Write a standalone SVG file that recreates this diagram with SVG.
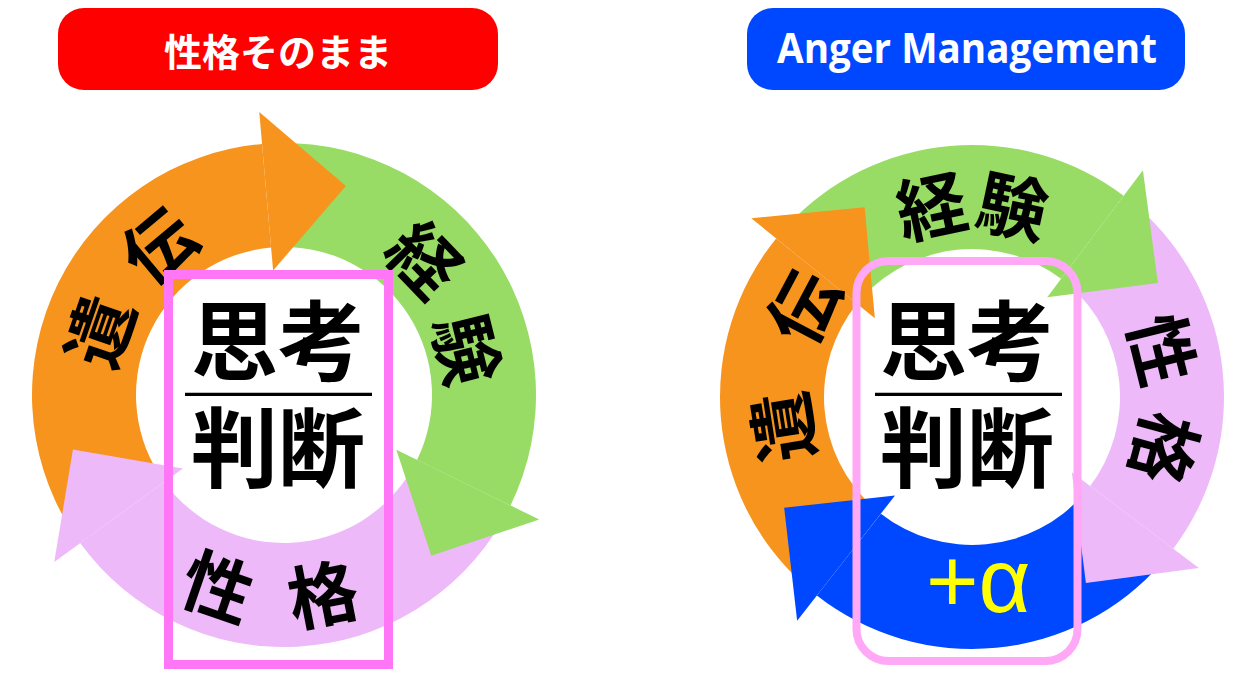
<svg xmlns="http://www.w3.org/2000/svg" width="1255" height="679" viewBox="0 0 1255 679">
<style>
.or{fill:#F7941D}
.gr{fill:#98DC65}
.pk{fill:#EEB9F9}
.bl{fill:#0048FF}
.arc{font-family:"Noto Sans CJK JP","Noto Sans CJK SC",sans-serif;font-weight:700;font-size:70px;text-anchor:middle;dominant-baseline:central;fill:#000}
.ctr{font-family:"Noto Sans CJK JP","Noto Sans CJK SC",sans-serif;font-weight:700;font-size:87px;text-anchor:middle;fill:#000}
.ttl{font-weight:700;fill:#fff;text-anchor:middle}
</style>
<rect width="1255" height="679" fill="#fff"/>

<g id="connectors">
  <g id="left-cycle">
    <path class="or" d="M70.29,528.54 A252,252 0 0 1 262.04,143.96 L271.10,247.56 A148,148 0 0 0 158.49,473.43 Z"/>
    <path class="gr" d="M279.60,143.04 A252,252 0 0 1 510.50,505.47 L417.02,459.88 A148,148 0 0 0 281.42,247.02 Z"/>
    <path class="pk" d="M502.24,521 A252,252 0 0 1 80.13,543.12 L164.27,481.99 A148,148 0 0 0 412.17,469 Z"/>
    <path class="or" d="M259.25,112.08 L345.92,185.98 L273.11,270.48 Z"/>
    <path class="gr" d="M539.26,519.50 L431.28,555.73 L396.35,449.80 Z"/>
    <path class="pk" d="M54.24,561.93 L72.94,449.58 L182.87,468.47 Z"/>
  </g>
  <g id="right-cycle">
    <path class="or" d="M803.38,584.27 A252,252 0 0 1 776.16,238.41 L856.98,303.86 A148,148 0 0 0 872.97,506.98 Z"/>
    <path class="gr" d="M787.70,225.14 A252,252 0 0 1 1123.66,195.74 L1061.07,278.80 A148,148 0 0 0 863.76,296.06 Z"/>
    <path class="pk" d="M1137.33,206.81 A252,252 0 0 1 1173.26,548.66 L1090.20,486.07 A148,148 0 0 0 1069.10,285.30 Z"/>
    <path class="bl" d="M1162.19,562.33 A252,252 0 0 1 816.85,595.58 L880.88,513.63 A148,148 0 0 0 1083.70,494.10 Z"/>
    <path class="or" d="M751.29,218.27 L864.65,207.26 L874.86,318.33 Z"/>
    <path class="gr" d="M1142.92,170.19 L1157.88,283.09 L1047.23,297.17 Z"/>
    <path class="pk" d="M1198.81,567.92 L1085.91,582.88 L1071.83,472.23 Z"/>
    <path class="bl" d="M797.15,620.80 L784.16,507.64 L895.04,495.50 Z"/>
  </g>
</g>

<g id="left-title">
  <rect x="58" y="8" width="440" height="82" rx="26" fill="#FF0000"/>
  <text class="ttl" x="278" y="49" dominant-baseline="central" font-family="Noto Sans CJK JP, Noto Sans CJK SC, sans-serif" font-size="38">性格そのまま</text>
</g>
<g id="right-title">
  <rect x="747" y="8" width="438" height="82" rx="26" fill="#0048FF"/>
  <text class="ttl" x="967" y="63" font-family="Open Sans, Liberation Sans, sans-serif" font-size="42" textLength="380" lengthAdjust="spacingAndGlyphs">Anger Management</text>
</g>

<g id="left-labels">
  <text class="arc" transform="translate(95.84,330.21) rotate(-71)">遺</text>
  <text class="arc" transform="translate(156.08,242.56) rotate(-40)">伝</text>
  <text class="arc" transform="translate(427.15,256.76) rotate(46)">経</text>
  <text class="arc" transform="translate(470.3,348.55) rotate(76)">験</text>
  <text class="arc" transform="translate(219.21,583.16) rotate(19)">性</text>
  <text class="arc" transform="translate(321.97,590.34) rotate(-11)">格</text>
</g>
<g id="right-labels">
  <text class="arc" transform="translate(779.40,427.50) rotate(-99)">遺</text>
  <text class="arc" transform="translate(799.82,305.45) rotate(-62)">伝</text>
  <text class="arc" transform="translate(930.63,202.35) rotate(-12)">経</text>
  <text class="arc" transform="translate(1013.37,202.35) rotate(12)">験</text>
  <text class="arc" transform="translate(1166.06,348.62) rotate(76)">性</text>
  <text class="arc" transform="translate(1168.08,449.54) rotate(105)">格</text>
  <text x="926" y="612" font-family="Liberation Sans, Arial, sans-serif" font-size="90" fill="#FFFF00">+α</text>
</g>

<g id="left-center">
  <rect x="168.5" y="274.5" width="220" height="390" fill="none" stroke="#FF77F7" stroke-width="9"/>
  <text class="ctr" x="278" y="374">思考</text>
  <line x1="185" y1="394.3" x2="372" y2="394.3" stroke="#000" stroke-width="3.3"/>
  <text class="ctr" x="278" y="481">判断</text>
</g>
<g id="right-center">
  <rect x="856.5" y="261" width="221" height="400" rx="32" fill="none" stroke="#FFA8F6" stroke-width="8"/>
  <text class="ctr" x="967" y="374">思考</text>
  <line x1="875" y1="394.3" x2="1062" y2="394.3" stroke="#000" stroke-width="3.3"/>
  <text class="ctr" x="967" y="481">判断</text>
</g>
</svg>
